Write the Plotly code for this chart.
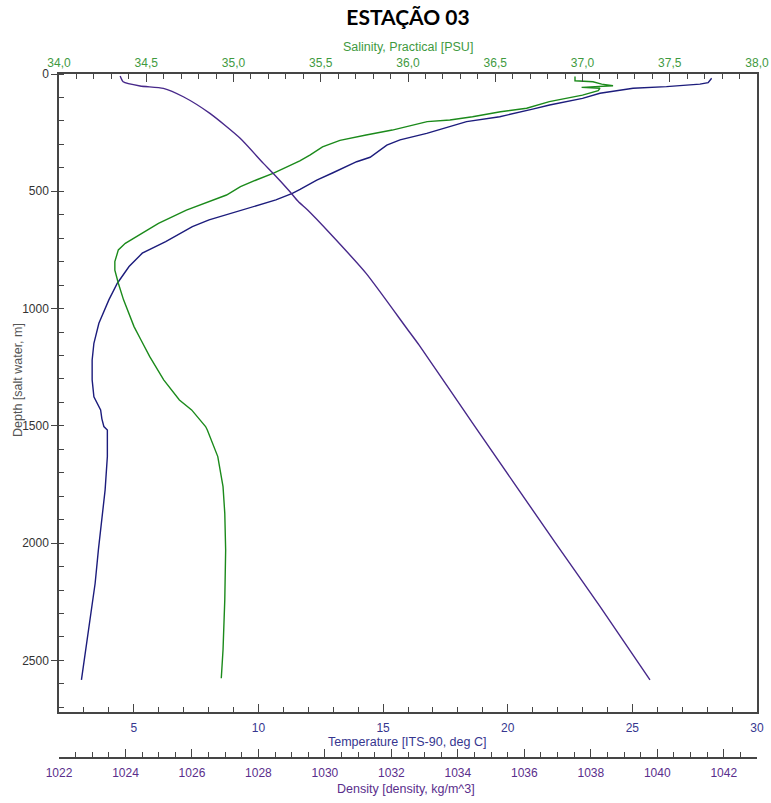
import plotly.graph_objects as go

# ---------------- data ----------------
sal_depth = [11, 29, 33, 43, 50, 54, 57, 61, 71, 90, 118, 146, 161, 182, 196, 203, 217, 239, 260,
             283, 311, 345, 370, 423, 452, 480, 516, 551, 580, 637, 679, 722, 750, 800, 836, 892,
             963, 1077, 1134, 1205, 1304, 1390, 1432, 1503, 1518, 1631, 1759, 1873, 2029, 2242,
             2455, 2576]
salinity = [36.957, 36.957, 37.06, 37.11, 37.175, 37.08, 36.995, 37.10, 37.09, 37.00, 36.81, 36.68,
            36.53, 36.37, 36.24, 36.11, 36.03, 35.91, 35.76, 35.61, 35.51, 35.44, 35.38, 35.23,
            35.13, 35.04, 34.96, 34.84, 34.73, 34.57, 34.48, 34.38, 34.34, 34.32, 34.32, 34.34,
            34.37, 34.43, 34.47, 34.52, 34.60, 34.69, 34.76, 34.84, 34.85, 34.91, 34.94, 34.95,
            34.955, 34.95, 34.94, 34.93]

temp_depth = [18, 37, 43, 54, 61, 82, 104, 132, 150, 182, 203, 225, 253, 281, 303, 355, 374, 421,
              452, 492, 509, 537, 580, 622, 651, 715, 764, 821, 892, 963, 1063, 1148, 1219, 1304,
              1376, 1432, 1470, 1503, 1518, 1631, 1773, 1887, 2029, 2171, 2313, 2455, 2583]
temperature = [28.18, 28.04, 27.71, 26.37, 25.03, 23.7, 23.0, 21.68, 21.0, 19.68, 18.35, 17.68,
               16.75, 15.68, 15.15, 14.48, 13.94, 12.99, 12.34, 11.67, 11.36, 10.70, 9.35, 8.02,
               7.35, 6.28, 5.34, 4.81, 4.34, 4.0, 3.60, 3.40, 3.33, 3.33, 3.40, 3.67, 3.72, 3.80,
               3.94, 3.94, 3.85, 3.72, 3.58, 3.45, 3.27, 3.09, 2.90]

dens_depth = [9, 33, 51, 61, 97, 168, 274, 381, 423, 502, 544, 580, 679, 850, 1084, 1155, 1500,
              2000, 2271, 2583]
density = [1023.84, 1023.93, 1024.44, 1025.14, 1025.74, 1026.54, 1027.45, 1028.15, 1028.44,
           1028.95, 1029.20, 1029.48, 1030.15, 1031.24, 1032.46, 1032.83, 1034.5, 1036.94,
           1038.28, 1039.78]

depth_ticks = [0, 500, 1000, 1500, 2000, 2500]
temp_ticks = [5, 10, 15, 20, 25, 30]
sal_ticks = [34.0, 34.5, 35.0, 35.5, 36.0, 36.5, 37.0, 37.5, 38.0]
sal_ticktext = ["34,0", "34,5", "35,0", "35,5", "36,0", "36,5", "37,0", "37,5", "38,0"]
dens_ticks = [1022, 1024, 1026, 1028, 1030, 1032, 1034, 1036, 1038, 1040, 1042]

# ---------------- styling ----------------
W, H = 771, 803
ML, MR, MT, MB = 59, 14, 74, 40
PW, PH = W - ML - MR, H - MT - MB
def px_x(p):
    return (p - ML) / PW
def px_y(p):
    return (H - MB - p) / PH

GREEN = "#1b8a1b"
GREEN_TXT = "#3f9a3f"
NAVY = "#1c1c7c"
NAVY_TXT = "#36368f"
PURPLE = "#47288a"
PURPLE_TXT = "#5a2e8c"
AX = "#454545"
FONT = "Liberation Sans, Arial, sans-serif"

fig = go.Figure()
fig.add_trace(go.Scatter(x=salinity, y=sal_depth, mode="lines", xaxis="x2", yaxis="y",
                         line=dict(color=GREEN, width=1.4), showlegend=False))
fig.add_trace(go.Scatter(x=temperature, y=temp_depth, mode="lines", xaxis="x", yaxis="y",
                         line=dict(color=NAVY, width=1.4), showlegend=False))
fig.add_trace(go.Scatter(x=density, y=dens_depth, mode="lines", xaxis="x3", yaxis="y",
                         line=dict(color=PURPLE, width=1.4, shape="spline", smoothing=0.6),
                         showlegend=False))

ydom0 = px_y(712)
common = dict(showgrid=False, zeroline=False, showline=True, linecolor=AX, linewidth=1.5,
              tickcolor=AX, tickwidth=1.2)

fig.update_layout(
    width=W, height=H,
    margin=dict(l=ML, r=MR, t=MT, b=MB, autoexpand=False),
    paper_bgcolor="white", plot_bgcolor="white",
    font=dict(family=FONT, size=12),
    title=dict(text="<b>ESTAÇÃO 03</b>", x=0.5, xref="paper", xanchor="center",
               y=1 - 18 / H, yref="container", yanchor="middle",
               font=dict(family="Lato, sans-serif", size=21, color="black")),
    xaxis=dict(**common, range=[2, 30], anchor="y", side="bottom",
               tickvals=temp_ticks, ticks="inside", ticklen=8,
               minor=dict(dtick=1, ticks="inside", ticklen=5, tickcolor=AX, tickwidth=1.2),
               tickfont=dict(color=NAVY_TXT, size=12), ticklabelstandoff=4),
    xaxis2=dict(**common, range=[34, 38], overlaying="x", anchor="y", side="top",
                tickvals=sal_ticks, ticktext=sal_ticktext, ticks="inside", ticklen=8,
                minor=dict(dtick=0.1, ticks="inside", ticklen=5, tickcolor=AX, tickwidth=1.2),
                tickfont=dict(color=GREEN_TXT, size=12)),
    xaxis3=dict(**common, range=[1022, 1043], overlaying="x", anchor="free",
                position=px_y(758), side="bottom",
                tickvals=dens_ticks, ticks="inside", ticklen=8,
                minor=dict(dtick=0.5, ticks="inside", ticklen=5, tickcolor=AX, tickwidth=1.2),
                tickfont=dict(color=PURPLE_TXT, size=12), ticklabelstandoff=4),
    yaxis=dict(**common, domain=[ydom0, 1], range=[2720, 0], anchor="x", mirror=True,
               tickvals=depth_ticks, ticks="outside", ticklen=6,
               minor=dict(dtick=100, ticks="inside", ticklen=5, tickcolor=AX, tickwidth=1.2),
               tickfont=dict(color="#333333", size=12)),
    yaxis2=dict(showgrid=False, zeroline=False, showline=False, overlaying="y", anchor="x",
                side="left", range=[2720, 0], tickvals=depth_ticks, ticks="inside",
                ticklen=6, tickcolor=AX, tickwidth=1.2, showticklabels=False),
)

annotations = [
    dict(text="Salinity, Practical [PSU]", x=px_x(408), y=px_y(47),
         font=dict(color=GREEN_TXT, size=12.5)),
    dict(text="Temperature [ITS-90, deg C]", x=px_x(407), y=px_y(742),
         font=dict(color=NAVY_TXT, size=12.5)),
    dict(text="Density [density, kg/m^3]", x=px_x(406), y=px_y(789),
         font=dict(color=PURPLE_TXT, size=12.5)),
    dict(text="Depth [salt water, m]", x=px_x(18), y=px_y(380), textangle=-90,
         font=dict(color="#555555", size=12.5)),
]
for a in annotations:
    a.update(xref="paper", yref="paper", xanchor="center", yanchor="middle",
             showarrow=False)
fig.update_layout(annotations=annotations)

fig.write_html("out.html")
